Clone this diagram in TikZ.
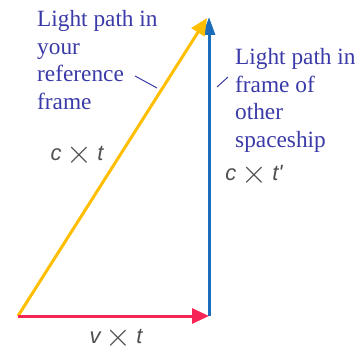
\documentclass[tikz,border=0pt]{standalone}
\usepackage{fontspec}
\setmainfont{Liberation Serif}
\setsansfont{Liberation Sans}
\usetikzlibrary{arrows.meta}
\definecolor{lblblue}{RGB}{58,58,168}
\definecolor{lightgold}{RGB}{255,190,0}
\definecolor{shipblue}{RGB}{28,108,188}
\definecolor{vred}{RGB}{245,38,85}
\definecolor{mathgray}{RGB}{80,80,80}
\tikzset{
  vec/.style={line width=3pt, -{Triangle[length=17pt,width=15pt]}},
  lbl/.style={text=lblblue, align=left, inner sep=0pt, anchor=north west},
  qty/.style={text=mathgray, inner sep=0pt, font=\fontsize{22}{26}\selectfont\sffamily},
  lead/.style={draw=lblblue, line width=1pt}
}
\newcommand{\tms}{\hspace{5pt}\raisebox{-3pt}{\scalebox{1.6}{$\times$}}\hspace{5pt}}
\begin{document}
\begin{tikzpicture}[x=1pt,y=1pt,font=\fontsize{23.3}{27.8}\selectfont]
    \useasboundingbox (0,0) rectangle (355,350);
    \coordinate (o) at (18,34);
    \coordinate (v) at (209,34);
    \coordinate (c) at (209,333);
    \coordinate (y) at (207,332);
    \node[lbl] (yours) at (37,340) {Light path in\\your\\reference\\frame};
    \node[lbl] (other) at (235,302) {Light path in\\frame of\\other\\spaceship};
    \node[qty] (ct) at (77,195) {\itshape c\tms t};
    \node[qty] (ctp) at (254,175) {\itshape c\tms t\textquotesingle};
    \node[qty] (vt) at (116,12) {\itshape v\tms t};
    \coordinate (a1) at (135,274);
    \coordinate (a2) at (157,262);
    \coordinate (b1) at (217,263);
    \coordinate (b2) at (228,273);
    \draw[vec, shipblue, -{Triangle[length=18pt,width=12pt]}] (v) -- (c);
    \draw[vec, lightgold] (o) -- (y);
    \draw[vec, vred] (o) -- (v);
    \foreach \u/\w in {a1/a2,b1/b2} { \draw[lead] (\u) -- (\w); }
\end{tikzpicture}
\end{document}
